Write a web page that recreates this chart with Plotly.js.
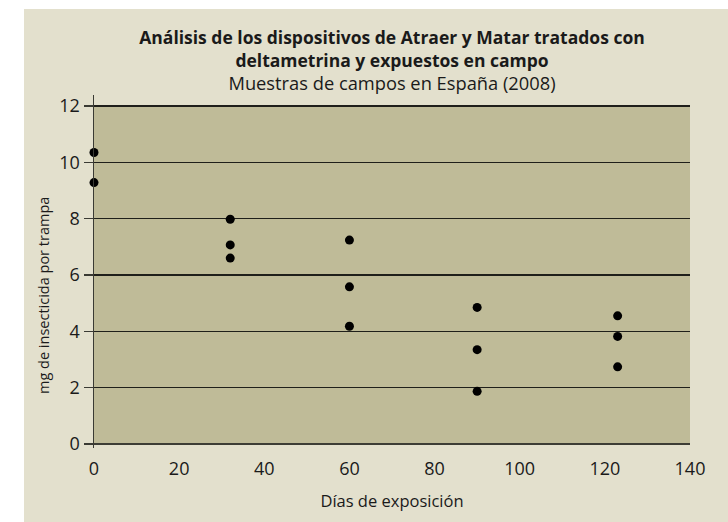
<!DOCTYPE html>
<html>
<head>
<meta charset="utf-8">
<script src="https://cdn.plot.ly/plotly-3.0.1.min.js"></script>
<style>html,body{margin:0;padding:0;background:#fff;}#chart{width:728px;height:522px;}</style>
</head>
<body>
<div id="chart"></div>
<script>
// Data
const days = [0, 0, 32, 32, 32, 60, 60, 60, 90, 90, 90, 123, 123, 123];
const mgPerTrap = [10.35, 9.28, 7.98, 7.07, 6.6, 7.24, 5.58, 4.18, 4.85, 3.35, 1.87, 4.55, 3.82, 2.74];
const yTicks = [0, 2, 4, 6, 8, 10, 12];
const xTicks = [0, 20, 40, 60, 80, 100, 120, 140];
const titleLine1 = "Análisis de los dispositivos de Atraer y Matar tratados con";
const titleLine2 = "deltametrina y expuestos en campo";
const subtitle = "Muestras de campos en España (2008)";
const xTitle = "Días de exposición";
const yTitle = "mg de insecticida por trampa";

const FONT = "Open Sans, Noto Sans, sans-serif";
const W = 728, H = 522;
const m = {l: 94, r: 38, t: 95, b: 74};
const pw = W - m.l - m.r, ph = H - m.t - m.b;
const px = v => (v - m.l) / pw;
const py = v => (H - m.b - v) / ph;

const trace = {
  x: days, y: mgPerTrap, type: 'scatter', mode: 'markers',
  marker: {color: '#000', size: 9},
  cliponaxis: false, hoverinfo: 'x+y'
};

const layout = {
  width: W, height: H,
  margin: m,
  paper_bgcolor: '#ffffff',
  plot_bgcolor: 'rgba(0,0,0,0)',
  showlegend: false,
  font: {family: FONT, color: '#1a1a1a'},
  title: {
    text: '<b>' + titleLine1 + '<br>' + titleLine2 + '</b><br><span style="font-size:18.3px">' + subtitle + '</span>',
    font: {family: FONT, size: 17.5, color: '#1a1a1a'},
    x: 392 / W, xanchor: 'center', xref: 'container',
    y: 1 - 44 / H, yanchor: 'top', yref: 'container'
  },
  xaxis: {
    range: [0, 140], tickvals: xTicks, ticktext: xTicks.map(String),
    showgrid: false, zeroline: false, showline: false, ticks: '',
    ticklabelstandoff: 8,
    tickfont: {family: FONT, size: 18, color: '#1a1a1a'},
    title: {text: xTitle, font: {family: FONT, size: 16.5, color: '#1a1a1a'}, standoff: 16},
    fixedrange: true
  },
  yaxis: {
    range: [-0.14, 12.39], tickvals: yTicks, ticktext: yTicks.map(String),
    showgrid: true, gridcolor: '#1f1f1a', gridwidth: 1.1,
    zeroline: true, zerolinecolor: '#3d3d35', zerolinewidth: 2.5,
    showline: true, linecolor: '#3a3a33', linewidth: 1.5,
    ticks: 'outside', ticklen: 9, tickcolor: '#3a3a33', tickwidth: 1.2,
    tickfont: {family: FONT, size: 18, color: '#1a1a1a'},
    fixedrange: true
  },
  annotations: [
    {text: yTitle, textangle: -90, xref: 'paper', yref: 'paper',
     x: px(43), y: py(296), xanchor: 'center', yanchor: 'middle',
     showarrow: false, font: {family: FONT, size: 14.5, color: '#1a1a1a'}}
  ],
  shapes: [
    {type: 'rect', xref: 'paper', yref: 'paper', layer: 'below',
     x0: px(24), x1: px(W + 2), y0: py(H + 2), y1: py(9),
     fillcolor: '#e3e0cd', line: {width: 0}},
    {type: 'rect', xref: 'x', yref: 'y', layer: 'below',
     x0: 0, x1: 140, y0: 0, y1: 12,
     fillcolor: '#bfbb98', line: {width: 0}}
  ]
};

Plotly.newPlot('chart', [trace], layout, {displayModeBar: false, staticPlot: true});
</script>
</body>
</html>
